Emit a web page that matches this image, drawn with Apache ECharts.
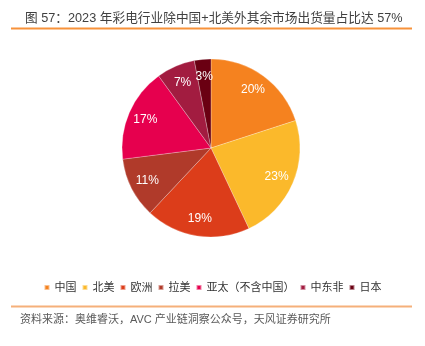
<!DOCTYPE html>
<html><head><meta charset="utf-8">
<script src="https://cdn.jsdelivr.net/npm/echarts@6/dist/echarts.min.js"></script>
<style>html,body{margin:0;padding:0;background:#fff;}#c{width:425px;height:346px;}</style>
</head><body><div id="c"></div>
<script>
const titleText = '图 57：2023 年彩电行业除中国+北美外其余市场出货量占比达 57%';
const sourceText = '资料来源：奥维睿沃，AVC 产业链洞察公众号，天风证券研究所';
const categories = ['中国', '北美', '欧洲', '拉美', '亚太（不含中国）', '中东非', '日本'];
const shares = [20, 23, 19, 11, 17, 7, 3];
const colors = ['#F5821F', '#FBB92B', '#DC3D1A', '#B03A2A', '#E6004E', '#A21C40', '#6A0012'];

const data = categories.map((n, i) => ({ name: n, value: shares[i] }));
const font = '"Liberation Sans", Arial, "Noto Sans CJK SC", sans-serif';
const chart = echarts.init(document.getElementById('c'), null, { renderer: 'canvas' });
chart.setOption({
  backgroundColor: '#fff',
  animation: false,
  color: colors,
  title: {
    text: titleText, left: 20, top: 7,
    textStyle: { fontSize: 12.7, fontWeight: 'normal', color: '#404040', fontFamily: font }
  },
  legend: {
    data: categories, left: 'center', top: 277,
    icon: 'rect', itemWidth: 5, itemHeight: 5, itemGap: 5,
    textStyle: { fontSize: 11, color: '#333', fontFamily: font }
  },
  graphic: [
    { type: 'line', shape: { x1: 11, y1: 28.5, x2: 412, y2: 28.5 }, style: { stroke: '#F7923A', lineWidth: 2 } },
    { type: 'line', shape: { x1: 11, y1: 306.5, x2: 412, y2: 306.5 }, style: { stroke: '#F5B07A', lineWidth: 2 } },
    { type: 'text', left: 20, top: 314, style: { text: sourceText, font: '11px ' + font, fill: '#595959' } }
  ],
  series: [
    {
      type: 'pie', center: [211, 148], radius: [0, 89], startAngle: 90, clockwise: true,
      label: { show: false }, labelLine: { show: false },
      itemStyle: { borderColor: 'rgba(255,255,255,0.5)', borderWidth: 0.5 },
      data: data
    },
    {
      type: 'pie', center: [211, 148], radius: [48, 89], startAngle: 90, clockwise: true, silent: true,
      itemStyle: { color: 'transparent' },
      label: { show: true, position: 'inside', formatter: '{c}%', color: '#fff', fontSize: 12, fontFamily: font },
      labelLine: { show: false },
      data: data
    }
  ]
});
</script></body></html>
